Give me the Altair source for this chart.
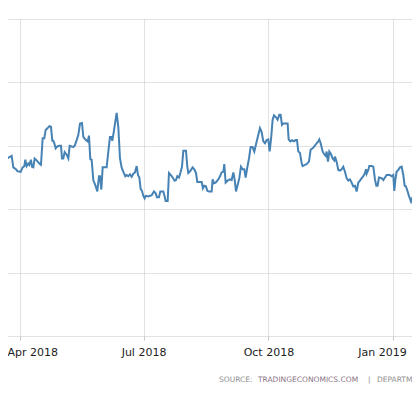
import altair as alt
import pandas as pd

dates = [
    "2018-03-17T06:00", "2018-03-19T17:00", "2018-03-20T11:00", "2018-03-21T11:00", "2018-03-22T04:00",
    "2018-03-23T10:00", "2018-03-25T21:00", "2018-03-27T02:00", "2018-03-29T01:00", "2018-03-30T01:00",
    "2018-04-01T12:00", "2018-04-02T23:00", "2018-04-04T05:00", "2018-04-04T22:00", "2018-04-05T22:00",
    "2018-04-07T03:00", "2018-04-07T21:00", "2018-04-09T02:00", "2018-04-09T20:00", "2018-04-10T20:00",
    "2018-04-11T19:00", "2018-04-13T07:00", "2018-04-15T06:00", "2018-04-16T11:00", "2018-04-17T17:00",
    "2018-04-18T22:00", "2018-04-19T22:00", "2018-04-21T09:00", "2018-04-22T15:00", "2018-04-23T20:00",
    "2018-04-24T20:00", "2018-04-25T13:00", "2018-04-26T07:00", "2018-04-27T07:00", "2018-04-28T12:00",
    "2018-04-29T23:00", "2018-05-01T05:00", "2018-05-01T23:00", "2018-05-02T22:00", "2018-05-03T22:00",
    "2018-05-05T09:00", "2018-05-06T15:00", "2018-05-07T14:00", "2018-05-09T01:00", "2018-05-10T07:00",
    "2018-05-11T12:00", "2018-05-12T18:00", "2018-05-13T23:00", "2018-05-15T05:00", "2018-05-16T16:00",
    "2018-05-17T16:00", "2018-05-19T03:00", "2018-05-20T20:00", "2018-05-21T20:00", "2018-05-22T19:00",
    "2018-05-23T19:00", "2018-05-25T00:00", "2018-05-26T12:00", "2018-05-27T23:00", "2018-05-29T05:00",
    "2018-05-29T22:00", "2018-05-30T22:00", "2018-05-31T22:00", "2018-06-03T20:00", "2018-06-05T08:00",
    "2018-06-06T07:00", "2018-06-07T07:00", "2018-06-08T00:00", "2018-06-09T06:00", "2018-06-10T05:00",
    "2018-06-11T05:00", "2018-06-12T10:00", "2018-06-13T16:00", "2018-06-14T21:00", "2018-06-16T03:00",
    "2018-06-17T14:00", "2018-06-18T14:00", "2018-06-19T19:00", "2018-06-21T01:00", "2018-06-22T06:00",
    "2018-06-23T12:00", "2018-06-24T17:00", "2018-06-25T23:00", "2018-06-26T22:00", "2018-06-27T22:00",
    "2018-06-28T21:00", "2018-06-29T21:00", "2018-06-30T20:00", "2018-07-01T20:00", "2018-07-02T14:00",
    "2018-07-04T13:00", "2018-07-07T00:00", "2018-07-08T17:00", "2018-07-09T23:00", "2018-07-10T22:00",
    "2018-07-12T09:00", "2018-07-13T09:00", "2018-07-15T14:00", "2018-07-16T14:00", "2018-07-17T07:00",
    "2018-07-18T19:00", "2018-07-19T18:00", "2018-07-21T00:00", "2018-07-22T11:00", "2018-07-23T22:00",
    "2018-07-24T22:00", "2018-07-25T22:00", "2018-07-27T03:00", "2018-07-28T03:00", "2018-07-29T08:00",
    "2018-07-30T08:00", "2018-08-01T07:00", "2018-08-02T06:00", "2018-08-03T00:00", "2018-08-03T23:00",
    "2018-08-04T23:00", "2018-08-06T05:00", "2018-08-07T10:00", "2018-08-08T16:00", "2018-08-09T15:00",
    "2018-08-11T14:00", "2018-08-12T20:00", "2018-08-13T19:00", "2018-08-14T19:00", "2018-08-16T00:00",
    "2018-08-17T00:00", "2018-08-18T05:00", "2018-08-20T05:00", "2018-08-20T22:00", "2018-08-21T22:00",
    "2018-08-23T03:00", "2018-08-25T02:00", "2018-08-26T08:00", "2018-08-27T13:00", "2018-08-28T19:00",
    "2018-08-29T12:00", "2018-08-30T12:00", "2018-08-31T23:00", "2018-09-02T17:00", "2018-09-03T22:00",
    "2018-09-05T04:00", "2018-09-06T03:00", "2018-09-07T03:00", "2018-09-08T08:00", "2018-09-09T14:00",
    "2018-09-10T19:00", "2018-09-12T01:00", "2018-09-13T06:00", "2018-09-14T06:00", "2018-09-15T11:00",
    "2018-09-16T17:00", "2018-09-17T22:00", "2018-09-19T09:00", "2018-09-20T15:00", "2018-09-21T20:00",
    "2018-09-23T02:00", "2018-09-24T19:00", "2018-09-26T00:00", "2018-09-27T06:00", "2018-09-28T12:00",
    "2018-09-29T17:00", "2018-09-30T22:00", "2018-10-01T22:00", "2018-10-02T22:00", "2018-10-04T03:00",
    "2018-10-05T03:00", "2018-10-06T14:00", "2018-10-07T19:00", "2018-10-09T01:00", "2018-10-10T00:00",
    "2018-10-11T00:00", "2018-10-11T23:00", "2018-10-14T11:00", "2018-10-15T04:00", "2018-10-15T22:00",
    "2018-10-17T03:00", "2018-10-18T09:00", "2018-10-19T20:00", "2018-10-21T02:00", "2018-10-22T01:00",
    "2018-10-23T01:00", "2018-10-24T06:00", "2018-10-25T12:00", "2018-10-26T05:00", "2018-10-27T23:00",
    "2018-10-29T04:00", "2018-10-30T21:00", "2018-11-01T03:00", "2018-11-02T14:00", "2018-11-03T20:00",
    "2018-11-05T13:00", "2018-11-06T18:00", "2018-11-07T12:00", "2018-11-08T12:00", "2018-11-09T23:00",
    "2018-11-10T23:00", "2018-11-12T04:00", "2018-11-12T22:00", "2018-11-13T21:00", "2018-11-14T21:00",
    "2018-11-16T02:00", "2018-11-17T08:00", "2018-11-18T13:00", "2018-11-19T01:00", "2018-11-20T06:00",
    "2018-11-21T12:00", "2018-11-22T17:00", "2018-11-23T23:00", "2018-11-25T04:00", "2018-11-26T10:00",
    "2018-11-27T15:00", "2018-11-28T21:00", "2018-11-30T02:00", "2018-12-01T08:00", "2018-12-02T13:00",
    "2018-12-03T19:00", "2018-12-05T00:00", "2018-12-06T06:00", "2018-12-07T11:00", "2018-12-08T17:00",
    "2018-12-09T22:00", "2018-12-11T03:00", "2018-12-11T21:00", "2018-12-12T09:00", "2018-12-13T14:00",
    "2018-12-14T08:00", "2018-12-16T01:00", "2018-12-17T07:00", "2018-12-18T12:00", "2018-12-19T12:00",
    "2018-12-20T11:00", "2018-12-21T11:00", "2018-12-23T10:00", "2018-12-24T16:00", "2018-12-25T21:00",
    "2018-12-27T03:00", "2018-12-28T08:00", "2018-12-29T13:00", "2018-12-30T19:00", "2019-01-01T00:00",
    "2019-01-01T18:00", "2019-01-02T12:00", "2019-01-03T11:00", "2019-01-04T17:00", "2019-01-05T22:00",
    "2019-01-07T04:00", "2019-01-08T09:00", "2019-01-09T09:00", "2019-01-10T08:00", "2019-01-11T14:00",
    "2019-01-12T13:00", "2019-01-14T01:00", "2019-01-15T00:00", "2019-01-16T12:00", "2019-01-17T17:00",
    "2019-01-18T23:00", "2019-01-19T22:00", "2019-01-20T16:00",
]

values = [
    3.014, 3.013, 3.017, 3.010, 2.984, 2.981, 2.984, 2.966, 2.963, 2.960,
    2.959, 2.966, 2.968, 2.978, 2.968, 2.972, 2.970, 2.978, 2.967, 2.966,
    2.980, 2.977, 2.972, 2.970, 3.012, 3.012, 3.025, 3.028, 3.031, 3.030,
    3.008, 3.008, 3.004, 2.996, 2.999, 3.000, 3.000, 2.980, 2.980, 2.990,
    2.986, 2.980, 3.000, 2.999, 2.998, 3.001, 3.009, 3.017, 3.035, 3.036,
    3.014, 3.010, 3.007, 3.016, 2.979, 2.978, 2.946, 2.938, 2.928, 2.952,
    2.952, 2.931, 2.966, 2.966, 2.996, 3.014, 3.014, 3.008, 3.024, 3.038,
    3.052, 3.030, 2.980, 2.966, 2.959, 2.952, 2.954, 2.952, 2.955, 2.951,
    2.956, 2.958, 2.968, 2.954, 2.950, 2.932, 2.929, 2.921, 2.917, 2.921,
    2.920, 2.922, 2.928, 2.925, 2.919, 2.919, 2.928, 2.928, 2.920, 2.913,
    2.913, 2.957, 2.954, 2.950, 2.945, 2.946, 2.952, 2.950, 2.957, 2.967,
    2.992, 2.992, 2.967, 2.957, 2.959, 2.962, 2.966, 2.963, 2.957, 2.943,
    2.943, 2.943, 2.933, 2.937, 2.936, 2.929, 2.928, 2.928, 2.947, 2.941,
    2.942, 2.947, 2.952, 2.958, 2.959, 2.971, 2.942, 2.945, 2.947, 2.946,
    2.958, 2.947, 2.928, 2.938, 2.949, 2.967, 2.963, 2.963, 2.950, 2.966,
    2.980, 2.998, 2.998, 2.991, 3.002, 3.013, 3.028, 3.022, 3.007, 3.004,
    3.009, 3.010, 2.991, 3.010, 3.041, 3.048, 3.045, 3.041, 3.049, 3.049,
    3.033, 3.035, 3.035, 3.035, 3.010, 3.007, 3.009, 3.007, 3.009, 3.009,
    2.991, 2.989, 2.973, 2.968, 2.970, 2.971, 2.975, 2.994, 2.996, 2.999,
    3.004, 3.007, 3.010, 3.004, 2.991, 2.987, 2.984, 2.991, 2.975, 2.991,
    2.987, 2.980, 2.977, 2.983, 2.975, 2.962, 2.961, 2.963, 2.967, 2.959,
    2.949, 2.945, 2.947, 2.942, 2.936, 2.937, 2.928, 2.942, 2.945, 2.949,
    2.952, 2.957, 2.963, 2.956, 2.962, 2.968, 2.968, 2.967, 2.947, 2.937,
    2.937, 2.950, 2.949, 2.946, 2.950, 2.954, 2.954, 2.954, 2.952, 2.954,
    2.929, 2.946, 2.959, 2.962, 2.966, 2.967, 2.954, 2.937, 2.936, 2.928,
    2.921, 2.912, 2.918, 2.926, 2.929, 2.928, 2.925, 2.923,
]

tick_dates = [(2018, 4, 1), (2018, 7, 1), (2018, 10, 1), (2019, 1, 1)]
y_grid = [2.7, 2.8, 2.9, 3.0, 3.1, 3.2]
source_parts = ["SOURCE:", "TRADINGECONOMICS.COM", "|", "DEPARTMENT OF THE TREASURY"]

df = pd.DataFrame({"date": dates, "value": values})

x_scale = alt.Scale(
    domain=[
        alt.DateTime(year=2018, month=3, date=23, hours=4),
        alt.DateTime(year=2019, month=1, date=14, hours=19),
    ]
)

grid_color = "#c4c4c4"

line = alt.Chart(df).mark_line(color="#4682b4", strokeWidth=2, clip=True).encode(
    x=alt.X(
        "date:T",
        scale=x_scale,
        axis=alt.Axis(
            values=[alt.DateTime(year=y, month=m, date=d) for (y, m, d) in tick_dates],
            format="%b %Y",
            title=None,
            domain=False,
            grid=True,
            gridColor=grid_color,
            gridDash=[1, 1],
            gridWidth=1,
            ticks=True,
            tickSize=4,
            tickColor="#c8c8c8",
            labelFont="DejaVu Sans",
            labelFontSize=11,
            labelColor="#222222",
            labelPadding=6,
            labelFlush=20,
            labelFlushOffset=13,
            labelOverlap=False,
        ),
    ),
    y=alt.Y(
        "value:Q",
        scale=alt.Scale(domain=[y_grid[0], y_grid[-1]], nice=False, zero=False),
        axis=alt.Axis(
            values=y_grid,
            labels=False,
            ticks=False,
            domain=False,
            title=None,
            grid=True,
            gridColor=grid_color,
            gridDash=[1, 1],
            gridWidth=1,
        ),
    ),
)

src_df = pd.DataFrame({"t": source_parts})

def src_text(i, xpos, color):
    return alt.Chart(src_df.iloc[[i]]).mark_text(
        align="left", baseline="middle", font="DejaVu Sans", fontSize=7.5, color=color
    ).encode(text="t:N", x=alt.value(xpos), y=alt.value(361))

chart = alt.layer(
    line,
    src_text(0, 211, "#8f8f8f"),
    src_text(1, 250, "#8a7386"),
    src_text(2, 360, "#8f8f8f"),
    src_text(3, 369, "#8f8f8f"),
).properties(
    width=404,
    height=317,
    autosize=alt.AutoSizeParams(type="none"),
    padding={"left": 0, "top": 11, "right": 0, "bottom": 49},
).configure_view(stroke=None)

chart.save("out.html", embed_options={"renderer": "svg", "actions": False})
